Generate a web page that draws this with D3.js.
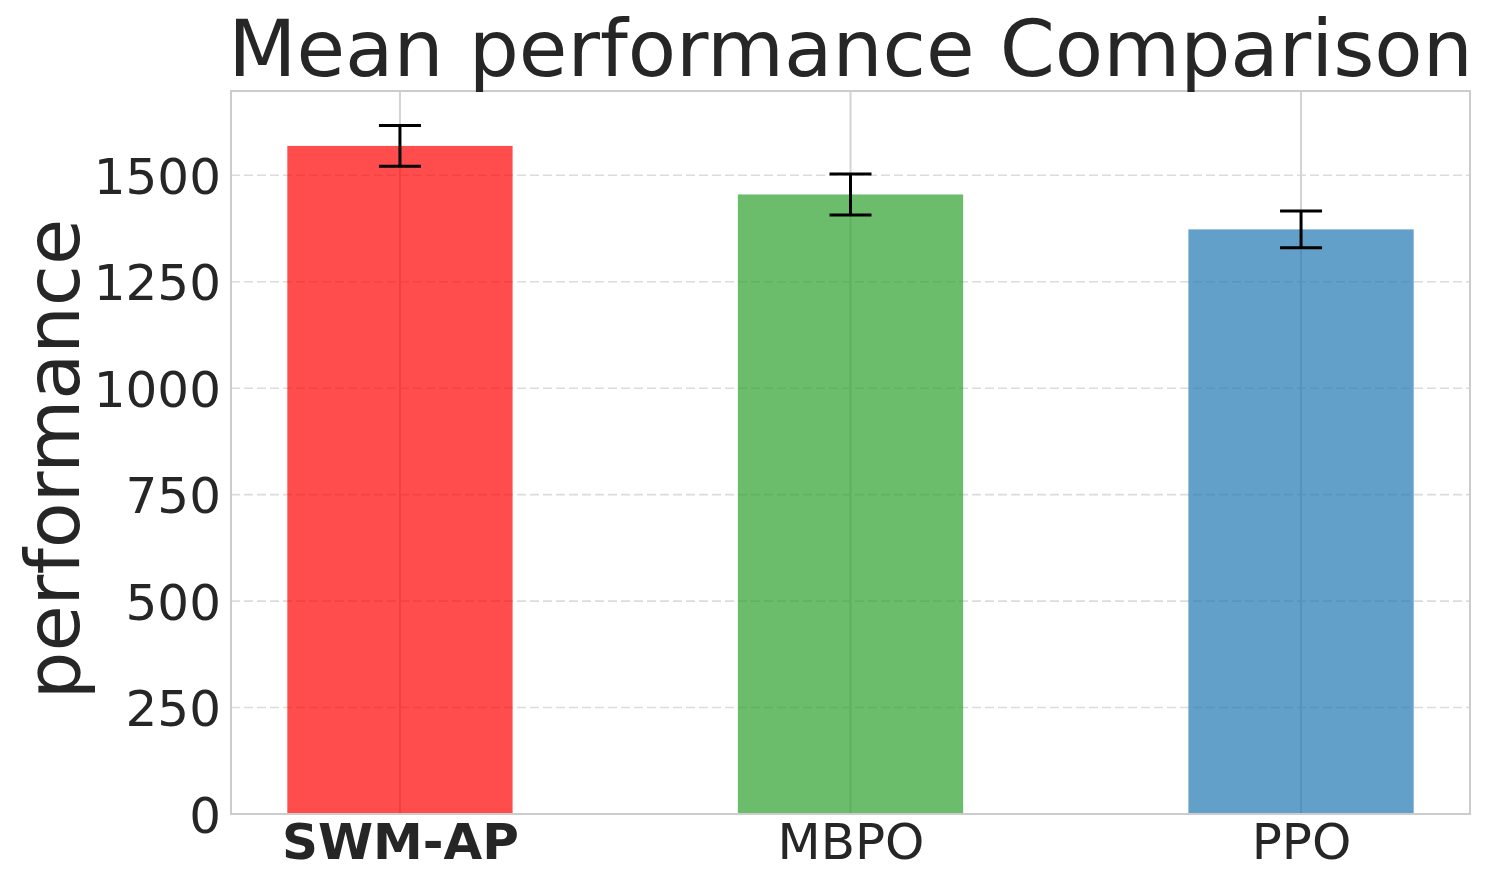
<!DOCTYPE html>
<html>
<head>
<meta charset="utf-8">
<script src="https://cdn.jsdelivr.net/npm/d3@7"></script>
<style>
  html, body { margin: 0; padding: 0; background: #fff; }
  svg { display: block; font-family: "DejaVu Sans", sans-serif; }
</style>
</head>
<body>
<svg id="chart" width="1488" height="885"></svg>
<script>
const categories = ["SWM-AP", "MBPO", "PPO"];
const means = [1569, 1455, 1373];
const errors = [48, 48, 43];
const colors = ["#ff0000", "#2ca02c", "#1f77b4"];
const yTicks = [0, 250, 500, 750, 1000, 1250, 1500];
const yMax = 1698;

const W = 1488, H = 885;
const m = { left: 231, right: 1470, top: 91, bottom: 814 };
const svg = d3.select("#chart");

const x = d3.scaleLinear().domain([-0.375, categories.length - 1 + 0.375]).range([m.left, m.right]);
const y = d3.scaleLinear().domain([0, yMax]).range([m.bottom, m.top]);
const barW = 0.5;

// grid
const grid = svg.append("g");
grid.selectAll("line.h").data(yTicks).join("line")
  .attr("x1", m.left).attr("x2", m.right)
  .attr("y1", d => y(d)).attr("y2", d => y(d))
  .attr("stroke", "#dcdcdc").attr("stroke-width", 1.6)
  .attr("stroke-dasharray", "9,4");
grid.selectAll("line.v").data(categories).join("line")
  .attr("x1", (d, i) => x(i)).attr("x2", (d, i) => x(i))
  .attr("y1", m.top).attr("y2", m.bottom)
  .attr("stroke", "#d3d3d3").attr("stroke-width", 2);

// bars
svg.append("g").selectAll("rect").data(means).join("rect")
  .attr("x", (d, i) => x(i - barW / 2))
  .attr("width", (d, i) => x(i + barW / 2) - x(i - barW / 2))
  .attr("y", d => y(d))
  .attr("height", d => y(0) - y(d))
  .attr("fill", (d, i) => colors[i])
  .attr("fill-opacity", 0.7);

// error bars
const eb = svg.append("g").attr("stroke", "#000").attr("stroke-width", 3);
means.forEach((v, i) => {
  const cx = x(i);
  eb.append("line").attr("x1", cx).attr("x2", cx).attr("y1", y(v - errors[i])).attr("y2", y(v + errors[i]));
  eb.append("line").attr("x1", cx - 21).attr("x2", cx + 21).attr("y1", y(v + errors[i])).attr("y2", y(v + errors[i]));
  eb.append("line").attr("x1", cx - 21).attr("x2", cx + 21).attr("y1", y(v - errors[i])).attr("y2", y(v - errors[i]));
});

// frame
svg.append("rect")
  .attr("x", m.left).attr("y", m.top)
  .attr("width", m.right - m.left).attr("height", m.bottom - m.top)
  .attr("fill", "none").attr("stroke", "#cccccc").attr("stroke-width", 2);

// y axis
const yAxis = d3.axisLeft(y).tickValues(yTicks).tickSize(0).tickPadding(10).tickFormat(d3.format("d"));
const ya = svg.append("g").attr("transform", `translate(${m.left},0)`).call(yAxis);
ya.select(".domain").remove();
ya.selectAll("text").attr("font-size", 50).attr("fill", "#262626")
  .attr("font-family", "DejaVu Sans").attr("dy", "0.36em");

// x axis
const xAxis = d3.axisBottom(x).tickValues(categories.map((d, i) => i)).tickSize(0).tickPadding(0)
  .tickFormat(i => categories[i]);
const xa = svg.append("g").attr("transform", `translate(0,${m.bottom})`).call(xAxis);
xa.select(".domain").remove();
xa.selectAll("text").attr("font-size", 50).attr("fill", "#262626")
  .attr("font-family", "DejaVu Sans").attr("dy", null).attr("y", 45)
  .attr("font-weight", (d, i) => i === 0 ? "bold" : "normal");

// title
svg.append("text")
  .attr("x", (m.left + m.right) / 2).attr("y", 76)
  .attr("text-anchor", "middle").attr("font-size", 79).attr("fill", "#262626")
  .text("Mean performance Comparison");

// y label
svg.append("text")
  .attr("transform", "translate(79,459) rotate(-90)")
  .attr("text-anchor", "middle").attr("font-size", 75).attr("fill", "#262626")
  .text("performance");
</script>
</body>
</html>
